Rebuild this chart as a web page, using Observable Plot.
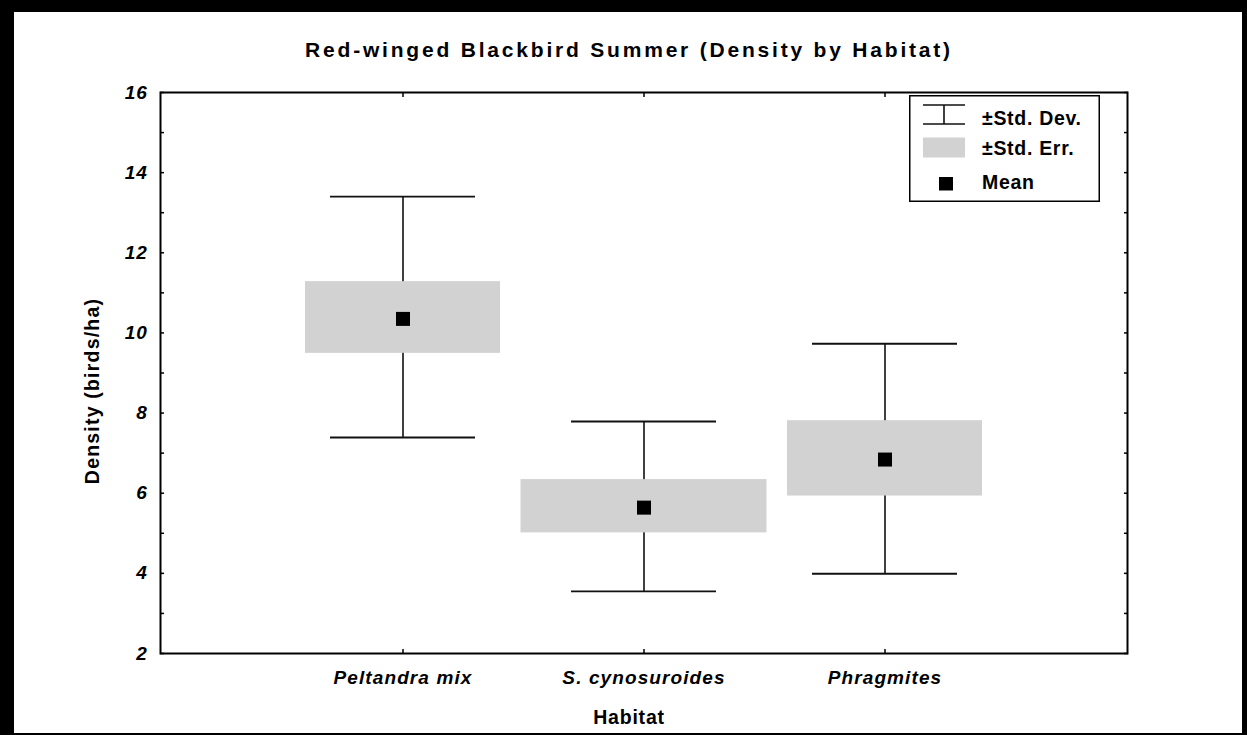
<!DOCTYPE html>
<html><head><meta charset="utf-8">
<script src="https://cdn.jsdelivr.net/npm/d3@7"></script>
<script src="https://cdn.jsdelivr.net/npm/@observablehq/plot@0.6"></script>
<style>
html,body{margin:0;padding:0;background:#fff;}
#wrap{position:relative;width:1247px;height:735px;overflow:hidden;background:#fff;font-family:"Liberation Sans",Arial,sans-serif;}
#chart svg{position:absolute;left:0;top:0;}
#border{position:absolute;left:0;top:0;width:1247px;height:735px;box-sizing:border-box;border-style:solid;border-color:#000;border-width:12px 5px 2px 14px;pointer-events:none;}
#legend{position:absolute;left:909px;top:95px;}
g[aria-label="x-axis tick label"] text{letter-spacing:1.1px;}
g[aria-label="y-axis tick label"] text{letter-spacing:0.8px;}
text[aria-label="chart-title"]{letter-spacing:2.8px;}
text[aria-label="y-title"]{letter-spacing:1.2px;}
text[aria-label="x-title"]{letter-spacing:0.8px;}
#legend text{letter-spacing:0.7px;}
</style>
</head><body>
<div id="wrap"><div id="chart"></div><div id="legend"></div><div id="border"></div></div>
<script>
// ---- data ----
const habitats = ["Peltandra mix", "S. cynosuroides", "Phragmites"];
const means  = [10.35, 5.64, 6.84];
const seLow  = [9.49, 5.01, 5.93];
const seHigh = [11.28, 6.34, 7.81];
const sdLow  = [7.39, 3.55, 3.99];
const sdHigh = [13.40, 7.79, 9.73];
const yTicks = [2, 3, 4, 5, 6, 7, 8, 9, 10, 11, 12, 13, 14, 15, 16];
const yLabelTicks = [2, 4, 6, 8, 10, 12, 14, 16];
const titleText = "Red-winged Blackbird Summer (Density by Habitat)";
const yTitle = "Density (birds/ha)";
const xTitle = "Habitat";
const legendLabels = ["\u00b1Std. Dev.", "\u00b1Std. Err.", "Mean"];

const rows = habitats.map((h, i) => ({
  habitat: h, mean: means[i], seLow: seLow[i], seHigh: seHigh[i], sdLow: sdLow[i], sdHigh: sdHigh[i]
}));

const ink = "#111";
const boxFill = "#d2d2d2";
const font = "'Liberation Sans', Arial, sans-serif";

const chart = Plot.plot({
  width: 1247,
  height: 735,
  marginLeft: 160,
  marginRight: 120,
  marginTop: 92,
  marginBottom: 82,
  style: {fontFamily: font, fontSize: "19px", fontWeight: "bold", color: "#000", background: "transparent"},
  x: {type: "band", domain: habitats, paddingInner: 0.19, paddingOuter: 0.595, label: null},
  y: {domain: [2, 16], label: null},
  marks: [
    Plot.ruleX(rows, {x: "habitat", y1: "sdLow", y2: "sdHigh", stroke: ink, strokeWidth: 1.6}),
    Plot.barY(rows, {filter: (d, i) => i !== 1, x: "habitat", y1: "seLow", y2: "seHigh", fill: boxFill}),
    Plot.barY(rows, {filter: (d, i) => i === 1, x: "habitat", y1: "seLow", y2: "seHigh", fill: boxFill, insetLeft: -25.5, insetRight: -25.5}),
    Plot.tickY(rows, {x: "habitat", y: "sdHigh", insetLeft: 25, insetRight: 25, stroke: ink, strokeWidth: 1.8}),
    Plot.tickY(rows, {x: "habitat", y: "sdLow", insetLeft: 25, insetRight: 25, stroke: ink, strokeWidth: 1.8}),
    Plot.dot(rows, {x: "habitat", y: "mean", symbol: "square", r: 7.9, fill: "#000", stroke: null}),
    Plot.axisY({anchor: "left", ticks: yTicks, tickSize: -4, tickPadding: 17,
      tickFormat: d => yLabelTicks.includes(d) ? String(d) : "",
      fontSize: 19, fontWeight: "bold", fontStyle: "italic", stroke: "#000", strokeWidth: 1.5}),
    Plot.axisY({anchor: "right", ticks: yTicks, tickSize: -4, tickFormat: () => "", stroke: "#000", strokeWidth: 1.5}),
    Plot.axisX({anchor: "bottom", tickSize: -4, tickPadding: 21,
      fontSize: 19, fontWeight: "bold", fontStyle: "italic", stroke: "#000", strokeWidth: 1.5}),
    Plot.axisX({anchor: "top", tickSize: -4, tickFormat: () => "", stroke: "#000", strokeWidth: 1.5}),
    Plot.frame({stroke: "#000", strokeWidth: 2}),
    Plot.text([titleText], {text: d => d, frameAnchor: "top", lineAnchor: "middle", textAnchor: "middle", dx: -15, dy: -42,
      fontSize: 21, fontWeight: "bold", fill: "#000", ariaLabel: () => "chart-title"}),
    Plot.text([yTitle], {text: d => d, frameAnchor: "left", textAnchor: "middle", lineAnchor: "middle", dx: -68, dy: 18, rotate: -90,
      fontSize: 19.5, fontWeight: "bold", fill: "#000", ariaLabel: () => "y-title"}),
    Plot.text([xTitle], {text: d => d, frameAnchor: "bottom", textAnchor: "middle", lineAnchor: "middle", dx: -15, dy: 64,
      fontSize: 19.5, fontWeight: "bold", fill: "#000", ariaLabel: () => "x-title"})
  ]
});
document.getElementById("chart").appendChild(chart);

// letter spacing fallback (by content) in case aria selectors do not match
const spacing = new Map([[titleText, "2.8px"], [yTitle, "1.2px"], [xTitle, "0.8px"]]);
chart.querySelectorAll("text").forEach(t => {
  const s = spacing.get(t.textContent);
  if (s) t.style.letterSpacing = s;
});

// ---- legend ----
const lg = d3.select("#legend").append("svg").attr("width", 191).attr("height", 107)
  .style("font-family", font).style("font-weight", "bold").style("font-size", "19.5px");
lg.append("rect").attr("x", 0.75).attr("y", 0.75).attr("width", 189.5).attr("height", 105.5)
  .attr("fill", "#fff").attr("stroke", "#000").attr("stroke-width", 1.5);
lg.append("line").attr("x1", 14).attr("x2", 56).attr("y1", 10).attr("y2", 10).attr("stroke", ink).attr("stroke-width", 1.6);
lg.append("line").attr("x1", 14).attr("x2", 56).attr("y1", 29).attr("y2", 29).attr("stroke", ink).attr("stroke-width", 1.6);
lg.append("line").attr("x1", 35).attr("x2", 35).attr("y1", 10).attr("y2", 29).attr("stroke", ink).attr("stroke-width", 1.6);
lg.append("rect").attr("x", 14).attr("y", 42.5).attr("width", 42).attr("height", 20).attr("fill", boxFill);
lg.append("rect").attr("x", 30).attr("y", 82).attr("width", 14).attr("height", 13.5).attr("fill", "#000");
const baselines = [30, 60, 94];
legendLabels.forEach((t, i) => {
  lg.append("text").attr("x", 73).attr("y", baselines[i]).attr("fill", "#000").text(t);
});
</script>
</body></html>
